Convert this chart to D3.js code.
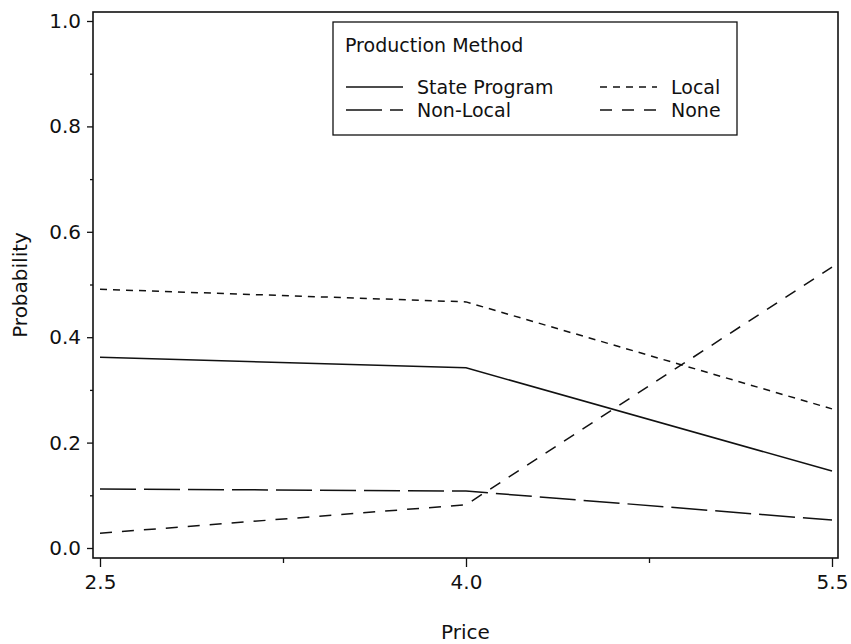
<!DOCTYPE html>
<html>
<head>
<meta charset="utf-8">
<script src="https://cdn.jsdelivr.net/npm/d3@7"></script>
<style>
  body { margin: 0; background: #fff; }
  svg { font-family: "DejaVu Sans", sans-serif; }
</style>
</head>
<body>
<div id="app"></div>
<script>
const prices = [2.5, 4.0, 5.5]
const methods = ["State Program", "Local", "Non-Local", "None"]
const stateProgram = [0.362, 0.342, 0.146]
const local = [0.491, 0.467, 0.264]
const nonLocal = [0.112, 0.108, 0.053]
const none = [0.028, 0.082, 0.533]
const xTicks = [2.5, 4.0, 5.5]
const xMinor = [3.25, 4.75]
const yTicks = [0, 0.2, 0.4, 0.6, 0.8, 1.0]
const yMinor = [0.1, 0.3, 0.5, 0.7, 0.9]

const seriesValues = [stateProgram, local, nonLocal, none]
const dashes = [null, "7,6", "36,8", "12,10"]

const series = methods.map((m, i) => ({
  name: m,
  dash: dashes[i],
  points: prices.map((p, j) => [p, seriesValues[i][j]])
}))

const W = 851, H = 644
const frame = { left: 93, right: 838, top: 12, bottom: 558 }
const FONT = "DejaVu Sans"

const fx = d3.scaleLinear().domain([2.5, 5.5]).range([100, 832])
const fy = d3.scaleLinear().domain([0, 1]).range([548, 21])

const svg = d3.select("#app").append("svg")
  .attr("width", W)
  .attr("height", H)

// y axis
const gy = svg.append("g")
  .attr("transform", `translate(${frame.left},0)`)
  .call(d3.axisLeft(fy).tickValues(yTicks).tickSize(6).tickPadding(6).tickFormat(d3.format(".1f")))
  .attr("font-family", FONT)
  .attr("font-size", 20)
gy.select(".domain").remove()
gy.selectAll("text").attr("fill", "#111")
gy.selectAll("line").attr("stroke", "#111").attr("stroke-width", 1.3)

const gym = svg.append("g")
  .attr("transform", `translate(${frame.left},0)`)
  .call(d3.axisLeft(fy).tickValues(yMinor).tickSize(3).tickFormat(""))
gym.select(".domain").remove()
gym.selectAll("line").attr("stroke", "#111").attr("stroke-width", 1.3)

// x axis
const gx = svg.append("g")
  .attr("transform", `translate(0,${frame.bottom})`)
  .call(d3.axisBottom(fx).tickValues(xTicks).tickSize(9).tickPadding(8).tickFormat(d3.format(".1f")))
  .attr("font-family", FONT)
  .attr("font-size", 20)
gx.select(".domain").remove()
gx.selectAll("text").attr("fill", "#111")
gx.selectAll("line").attr("stroke", "#111").attr("stroke-width", 1.3)

const gxm = svg.append("g")
  .attr("transform", `translate(0,${frame.bottom})`)
  .call(d3.axisBottom(fx).tickValues(xMinor).tickSize(5).tickFormat(""))
gxm.select(".domain").remove()
gxm.selectAll("line").attr("stroke", "#111").attr("stroke-width", 1.3)

// frame
svg.append("rect")
  .attr("x", frame.left)
  .attr("y", frame.top)
  .attr("width", frame.right - frame.left)
  .attr("height", frame.bottom - frame.top)
  .attr("fill", "none")
  .attr("stroke", "#111")
  .attr("stroke-width", 1.6)

// axis labels
svg.append("text")
  .attr("x", (frame.left + frame.right) / 2)
  .attr("y", 639)
  .attr("text-anchor", "middle")
  .attr("font-size", 20)
  .attr("fill", "#111")
  .text("Price")

svg.append("text")
  .attr("transform", `translate(27,${(frame.top + frame.bottom) / 2}) rotate(-90)`)
  .attr("text-anchor", "middle")
  .attr("font-size", 20)
  .attr("fill", "#111")
  .text("Probability")

// lines
const line = d3.line().x(d => fx(d[0])).y(d => fy(d[1]))
svg.append("g")
  .attr("fill", "none")
  .attr("stroke", "#111")
  .attr("stroke-width", 1.5)
  .selectAll("path")
  .data(series)
  .join("path")
    .attr("d", d => line(d.points))
    .attr("stroke-dasharray", d => d.dash)

// legend
const lg = svg.append("g")
lg.append("rect")
  .attr("x", 333).attr("y", 22)
  .attr("width", 404).attr("height", 113)
  .attr("fill", "#fff")
  .attr("stroke", "#111")
  .attr("stroke-width", 1.3)
lg.append("text")
  .attr("x", 345).attr("y", 52)
  .attr("font-size", 19)
  .attr("fill", "#111")
  .text("Production Method")

const cols = [346, 600]
const rows = [87, 110]
const items = lg.selectAll("g.item")
  .data(series)
  .join("g")
    .attr("class", "item")
    .attr("transform", (d, i) => `translate(${cols[i % 2]},${rows[Math.floor(i / 2)]})`)
items.append("line")
  .attr("x1", 0).attr("x2", 57)
  .attr("stroke", "#111")
  .attr("stroke-width", 1.5)
  .attr("stroke-dasharray", d => d.dash)
items.append("text")
  .attr("x", 71).attr("y", 7)
  .attr("font-size", 19)
  .attr("fill", "#111")
  .text(d => d.name)
</script>
</body>
</html>
